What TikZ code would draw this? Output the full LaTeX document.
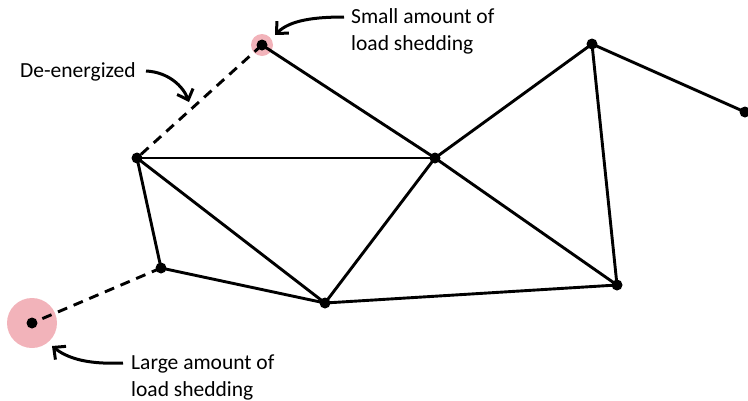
\documentclass[tikz,border=0pt]{standalone}
\usepackage{fontspec}
\setmainfont{Carlito}
\usetikzlibrary{arrows.meta}
\definecolor{shed}{HTML}{F2B3BA}
\tikzset{
  dot/.style={circle,fill=black,inner sep=0pt,minimum size=11pt},
  line/.style={line width=2.9pt},
  dead/.style={line width=2.9pt,dash pattern=on 10pt off 7pt},
  lbl/.style={font=\fontsize{21.5}{27}\selectfont,align=left,inner sep=0pt},
  callout/.style={line width=3pt,-{Straight Barb[length=9pt,width=17pt,line width=3pt]}}
}
\begin{document}
\begin{tikzpicture}[x=1pt,y=-1pt]
\useasboundingbox (0,0) rectangle (748,400);
\clip (0,0) rectangle (748,400);
\fill[shed] (262,45) circle (11);
\fill[shed] (32,323) circle (25);
\node[dot] (a) at (262,45) {};
\node[dot] (b) at (137,158) {};
\node[dot] (c) at (435,158) {};
\node[dot] (d) at (592,44) {};
\node[dot] (e) at (745,112) {};
\node[dot] (f) at (161,268) {};
\node[dot] (g) at (325,303) {};
\node[dot] (h) at (617,285) {};
\node[dot] (i) at (32,323) {};
\draw[dead] (a.center) -- (b.center);
\draw[dead] (f.center) -- (i.center);
\draw[line] (a.center) -- (c.center);
\draw[line] (b.center) -- (c.center);
\draw[line] (c.center) -- (d.center);
\draw[line] (d.center) -- (e.center);
\draw[line] (d.center) -- (h.center);
\draw[line] (b.center) -- (g.center);
\draw[line] (b.center) -- (f.center);
\draw[line] (f.center) -- (g.center);
\draw[line] (g.center) -- (c.center);
\draw[line] (c.center) -- (h.center);
\draw[line] (g.center) -- (h.center);
\node[lbl,anchor=west] (l1) at (20,72) {De-energized};
\node[lbl,anchor=west] (l2) at (351,31) {Small amount of\\load shedding};
\node[lbl,anchor=west] (l3) at (131,377) {Large amount of\\load shedding};
\coordinate (s1) at (146,71);
\coordinate (t1) at (189,102);
\coordinate (s2) at (344,17);
\coordinate (t2) at (275,35);
\coordinate (s3) at (123,363);
\coordinate (t3) at (52,346);
\draw[callout] (s1) .. controls (168,72) and (183,86) .. (t1);
\draw[callout] (s2) .. controls (315,17) and (290,20) .. (t2);
\draw[callout] (s3) .. controls (98,364) and (72,362) .. (t3);
\end{tikzpicture}
\end{document}
